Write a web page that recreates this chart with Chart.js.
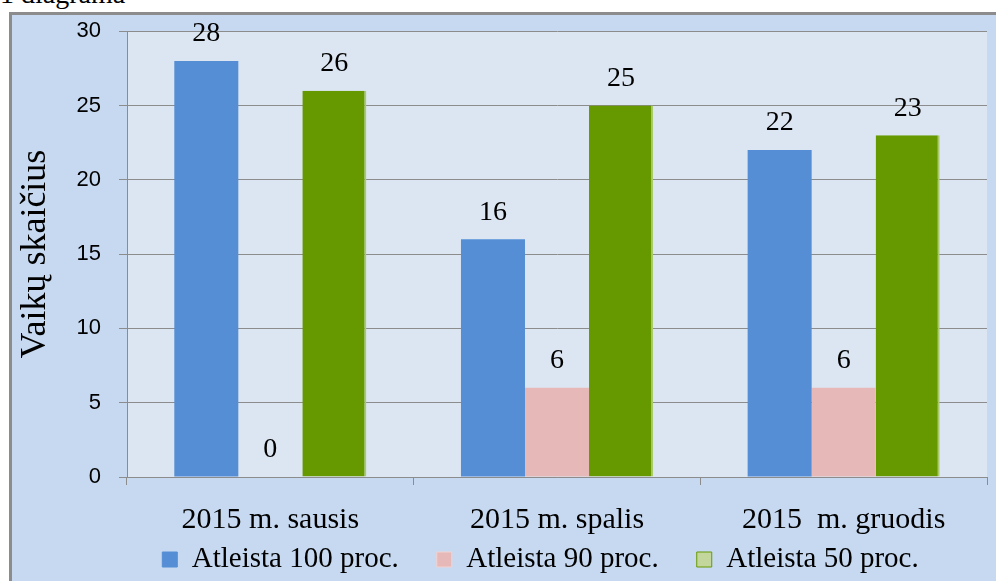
<!DOCTYPE html>
<html>
<head>
<meta charset="utf-8">
<script src="https://cdn.jsdelivr.net/npm/chart.js@4.4.1/dist/chart.umd.min.js"></script>
<style>
  body { margin: 0; background: #fff; width: 996px; height: 581px; overflow: hidden; position: relative; }
  #caption { position: absolute; left: 0; top: -20px; font: 28px/28px "Liberation Serif", serif; color: #000; }
  #frame { position: absolute; left: 9px; top: 12px; width: 987px; height: 569px; background: #c6d9f1;
           border-left: 3px solid #8c8c8c; border-top: 3px solid #8c8c8c; }
  #chart { position: absolute; left: 0; top: 0; }
</style>
</head>
<body>
<div id="caption">1 diagrama</div>
<div id="frame"></div>
<canvas id="chart" width="996" height="581"></canvas>
<script>
const categories = ['2015 m. sausis', '2015 m. spalis', '2015  m. gruodis'];
const seriesNames = ['Atleista 100 proc.', 'Atleista 90 proc.', 'Atleista 50 proc.'];
const full = [28, 16, 22];
const ninety = [0, 6, 6];
const half = [26, 25, 23];
const yTicks = [0, 5, 10, 15, 20, 25, 30];

const barColors = ['#558ed5', '#e6b9b8', '#669900'];
const legendFill = ['#558ed5', '#e6b9b8', '#c3d69b'];
const legendStroke = ['#558ed5', '#f2d2d1', '#669900'];

const serif = '"Liberation Serif", "Times New Roman", serif';

const plotBackground = {
    id: 'plotBackground',
    beforeDraw(chart) {
        const { ctx, chartArea } = chart;
        ctx.save();
        ctx.fillStyle = '#dce6f2';
        ctx.fillRect(chartArea.left, chartArea.top, chartArea.right - chartArea.left, chartArea.bottom - chartArea.top);
        ctx.restore();
    }
};

// x axis is kept short so the legend sits close; let its labels run past it.
// legend in the original is centred under the plot, not the whole canvas
const tweakLayout = {
    id: 'tweakLayout',
    afterLayout(chart) {
        chart.scales.x.bottom = chart.height;
        chart.legend.left += 47;
        chart.legend.right += 47;
        chart.legend.top += 3;
        chart.legend.bottom += 3;
    }
};

// value above every bar, zero included
const valueLabels = {
    id: 'valueLabels',
    afterDatasetsDraw(chart) {
        const { ctx } = chart;
        ctx.save();
        ctx.font = '28px ' + serif;
        ctx.fillStyle = '#000';
        ctx.textAlign = 'center';
        ctx.textBaseline = 'middle';
        chart.data.datasets.forEach((ds, i) => {
            chart.getDatasetMeta(i).data.forEach((bar, j) => {
                ctx.fillText(ds.data[j], bar.x, bar.y - 27);
            });
        });
        ctx.restore();
    }
};

new Chart(document.getElementById('chart').getContext('2d'), {
    type: 'bar',
    data: {
        labels: categories,
        datasets: [
            { label: seriesNames[0], data: full, backgroundColor: barColors[0] },
            { label: seriesNames[1], data: ninety, backgroundColor: barColors[1] },
            {
                label: seriesNames[2], data: half, backgroundColor: barColors[2],
                borderColor: '#a9c96a', borderWidth: { top: 0, left: 0, bottom: 0, right: 2 }
            }
        ]
    },
    options: {
        responsive: false,
        animation: false,
        categoryPercentage: 0.67,
        barPercentage: 1,
        layout: { padding: { left: 0, top: 29, right: 9, bottom: 0 } },
        plugins: {
            legend: {
                position: 'bottom',
                labels: {
                    color: '#000',
                    font: { family: serif, size: 29 },
                    boxWidth: 15,
                    boxHeight: 15,
                    padding: 38,
                    generateLabels(chart) {
                        return chart.data.datasets.map((ds, i) => ({
                            text: ds.label,
                            fillStyle: legendFill[i],
                            strokeStyle: legendStroke[i],
                            lineWidth: 1,
                            datasetIndex: i,
                            hidden: false
                        }));
                    }
                }
            },
            tooltip: { enabled: false }
        },
        scales: {
            x: {
                grid: { drawOnChartArea: false, drawTicks: true, tickLength: 8, color: '#8c8c8c', offset: true },
                border: { color: '#8c8c8c' },
                ticks: { color: '#000', font: { family: serif, size: 30 }, padding: 17 },
                afterFit(scale) { scale.height = 27; }
            },
            y: {
                min: 0,
                max: 30,
                afterBuildTicks(scale) { scale.ticks = yTicks.map(v => ({ value: v })); },
                grid: { color: '#8c8c8c', tickLength: 8 },
                border: { color: '#8c8c8c' },
                ticks: { color: '#000', font: { family: '"Liberation Sans", Arial, sans-serif', size: 22 }, padding: 18 },
                title: {
                    display: true,
                    text: 'Vaikų skaičius',
                    color: '#000',
                    font: { family: serif, size: 36 },
                    padding: { top: 14, bottom: 0 }
                },
                afterFit(scale) { scale.width = 127; }
            }
        }
    },
    plugins: [plotBackground, tweakLayout, valueLabels]
});
</script>
</body>
</html>
